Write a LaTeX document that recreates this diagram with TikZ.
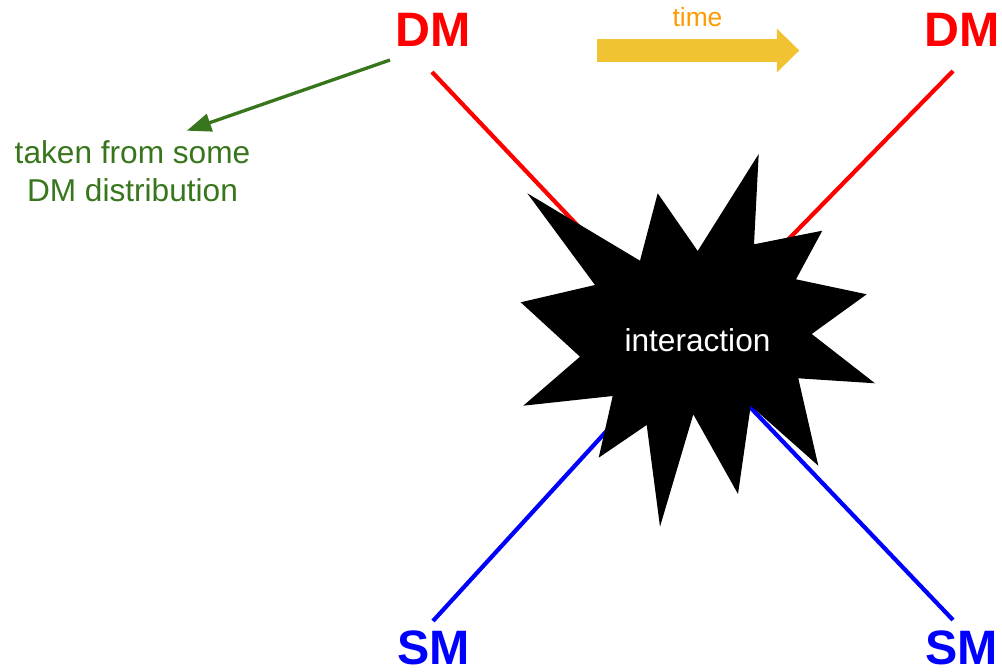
\documentclass[tikz,border=0pt]{standalone}
\usepackage{fontspec}
\setmainfont{Liberation Sans}
\usetikzlibrary{arrows.meta}
\definecolor{rojodm}{HTML}{FF0000}
\definecolor{azulsm}{HTML}{0000FF}
\definecolor{verdedist}{HTML}{38761D}
\definecolor{amarillotiempo}{HTML}{F1C232}
\definecolor{naranjatiempo}{HTML}{FF9900}
\begin{document}
\begin{tikzpicture}[x=0.02cm, y=-0.02cm,
    particula/.style={font=\fontsize{27.5}{33}\selectfont\bfseries, inner sep=0pt},
    linea/.style={line width=2.4pt},
    texto/.style={font=\fontsize{18}{21.4}\selectfont, inner sep=0pt}]
    \useasboundingbox (0,0) rectangle (1002,672);

    % Partículas
    \node[particula, rojodm] (dmA) at (433.5,30) {DM};
    \node[particula, rojodm] (dmB) at (962,30) {DM};
    \node[particula, azulsm] (smA) at (434,648) {SM};
    \node[particula, azulsm] (smB) at (962,648) {SM};

    % Extremos de las líneas
    \coordinate (pA) at (432,72);
    \coordinate (pB) at (953,71);
    \coordinate (pC) at (433,621);
    \coordinate (pD) at (953,620);
    \coordinate (choque) at (688,342);

    % Líneas hacia la interacción
    \draw[linea, rojodm] (pA) -- (choque);
    \draw[linea, rojodm] (pB) -- (choque);
    \draw[linea, azulsm] (pC) -- (choque);
    \draw[linea, azulsm] (pD) -- (choque);

    % Estrella
    \fill[black] (527.3,193.3) -- (640,260.7) -- (657.7,193.3) -- (697.7,251)
        -- (758.7,154) -- (754,244.3) -- (822.3,230.7) -- (796,279.3)
        -- (866.7,294.3) -- (811.7,334) -- (875,383.3) -- (798.3,378.3)
        -- (818.3,465.7) -- (750.7,405.7) -- (738,494) -- (693.3,414.3)
        -- (660,526.7) -- (646.7,425) -- (598.7,457.7) -- (612.7,396)
        -- (523.3,405.7) -- (580,356.7) -- (520.7,302.3) -- (595,285) -- cycle;
    \node[texto, white] (interaccion) at (697.5,340.4) {interaction};

    % Flecha del tiempo
    \coordinate (t0) at (597,50.5);
    \coordinate (t1) at (799.3,50.5);
    \draw[amarillotiempo, line width=0.448cm,
        -{Triangle[length=0.45cm, width=0.88cm, line width=0pt]}] (t0) -- (t1);
    \node[font=\fontsize{15}{18}\selectfont, inner sep=0pt, naranjatiempo] (tiempo) at (697.5,16.7) {time};

    % Distribución
    \node[texto, verdedist, align=center] (dist) at (132.5,171.4) {taken from some\\DM distribution};
    \coordinate (g0) at (390,60);
    \coordinate (g1) at (186.7,130.7);
    \draw[verdedist, line width=1.9pt, -{Triangle[length=0.49cm, width=0.36cm]}] (g0) -- (g1);
\end{tikzpicture}
\end{document}
